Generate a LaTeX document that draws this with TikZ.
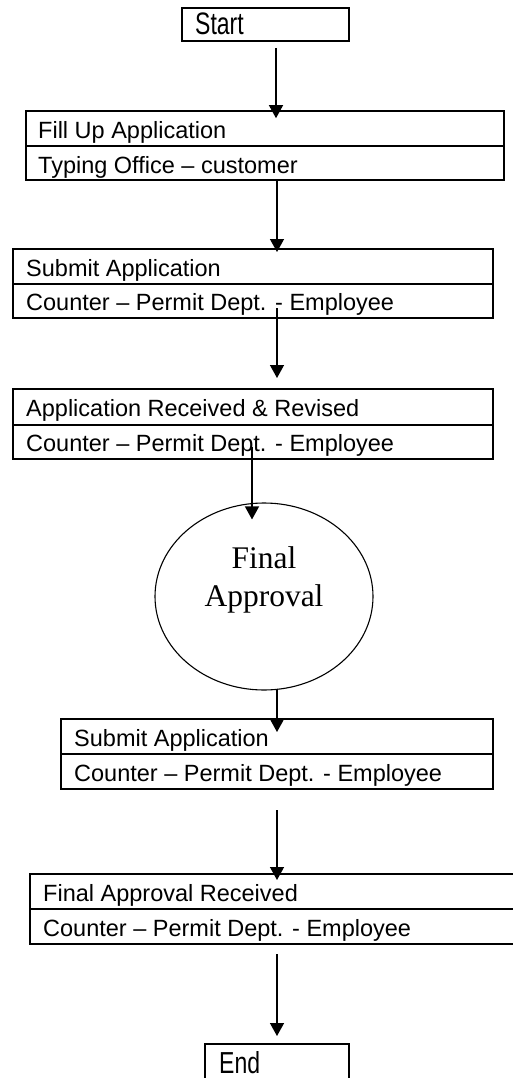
\documentclass[tikz,border=0pt]{standalone}
\usepackage{graphicx}
\usepackage{fontspec}
\setmainfont{Liberation Sans}
\newfontfamily\serifface{Liberation Serif}
\usetikzlibrary{arrows.meta,shapes.geometric,calc}
\begin{document}
\begin{tikzpicture}[x=1pt,y=-1pt,
  row/.style={draw,line width=2pt,inner sep=0pt,outer sep=0pt,anchor=north west},
  txt/.style={anchor=base west,inner sep=0pt,font=\fontsize{23.5}{28}\selectfont},
  big/.style={anchor=base west,inner sep=0pt,font=\fontsize{23}{28}\selectfont},
  stxt/.style={anchor=base,inner sep=0pt,font=\serifface\fontsize{31.5}{38}\selectfont},
  arr/.style={line width=1.4pt,-{Triangle[width=14pt,length=13pt]}}]
\useasboundingbox (0,0) rectangle (512,1078);
\fill[white] (0,0) rectangle (512,1078);

% Start
\node[row,minimum width=166.5pt,minimum height=33.7pt] (st) at (182,7.8) {};
\node[big] (tst) at ($(st.north west)+(13,27.2)$) {\scalebox{1}[1.35]{Start}};

% Box 1
\node[row,minimum width=478.5pt,minimum height=35pt] (b1a) at (25.5,111.2) {};
\node[row,minimum width=478.5pt,minimum height=34pt] (b1b) at (25.5,146.2) {};
\node[txt] (t1a) at ($(b1a.north west)+(12.5,27)$) {Fill Up Application};
\node[txt] (t1b) at ($(b1b.north west)+(12.5,27)$) {Typing Office – customer};

% Box 2
\node[row,minimum width=479.5pt,minimum height=34.5pt] (b2a) at (13.3,249) {};
\node[row,minimum width=479.5pt,minimum height=34.5pt] (b2b) at (13.3,283.5) {};
\node[txt] (t2a) at ($(b2a.north west)+(12.7,27)$) {Submit Application};
\node[txt] (t2b) at ($(b2b.north west)+(12.7,27)$) {Counter – Permit Dept. - Employee};

% Box 3
\node[row,minimum width=479.5pt,minimum height=36pt] (b3a) at (13.3,388.7) {};
\node[row,minimum width=479.5pt,minimum height=34.1pt] (b3b) at (13.3,424.7) {};
\node[txt] (t3a) at ($(b3a.north west)+(12.7,27.5)$) {Application Received \& Revised};
\node[txt] (t3b) at ($(b3b.north west)+(12.7,27)$) {Counter – Permit Dept. - Employee};

% Ellipse
\node[draw,ellipse,line width=1.1pt,inner sep=0pt,minimum width=218pt,minimum height=187pt] (el) at (264,596.5) {};
\node[stxt] (tf1) at ($(el.center)+(0,-28.5)$) {Final};
\node[stxt] (tf2) at ($(el.center)+(0,9.5)$) {Approval};

% Box 4
\node[row,minimum width=431.7pt,minimum height=35pt] (b4a) at (61,719) {};
\node[row,minimum width=431.7pt,minimum height=35pt] (b4b) at (61,754) {};
\node[txt] (t4a) at ($(b4a.north west)+(13,27)$) {Submit Application};
\node[txt] (t4b) at ($(b4b.north west)+(13,27)$) {Counter – Permit Dept. - Employee};

% Box 5
\node[row,minimum width=500pt,minimum height=35pt] (b5a) at (30,874) {};
\node[row,minimum width=500pt,minimum height=35pt] (b5b) at (30,909) {};
\node[txt] (t5a) at ($(b5a.north west)+(13,27)$) {Final Approval Received};
\node[txt] (t5b) at ($(b5b.north west)+(13,27)$) {Counter – Permit Dept. - Employee};

% End
\node[row,minimum width=144.5pt,minimum height=50pt] (en) at (204.5,1044) {};
\node[big] (ten) at ($(en.north west)+(14.5,29)$) {\scalebox{1}[1.32]{End}};

% Arrow columns
\coordinate (c0) at (276,0);
\coordinate (c) at (277,0);
\coordinate (c3) at (252,0);

\draw[arr] ($(st.south -| c0)+(0,6.5)$) -- ($(b1a.north -| c0)+(0,7)$);
\draw[arr] (b1b.south -| c) -- ($(b2a.north -| c)+(0,3)$);
\draw[arr] ($(b2b.south -| c)+(0,-10)$) -- ($(b3a.north -| c)+(0,-10.7)$);
\draw[arr] ($(b3b.south -| c3)+(0,-12)$) -- ($(el.north -| c3)+(0,17)$);
\draw[arr] ($(el.south -| c)+(0,-2)$) -- ($(b4a.north -| c)+(0,13)$);
\draw[arr] ($(b4b.south -| c)+(0,21)$) -- ($(b5a.north -| c)+(0,6)$);
\draw[arr] ($(b5b.south -| c)+(0,10)$) -- ($(en.north -| c)+(0,-8)$);
\end{tikzpicture}
\end{document}
